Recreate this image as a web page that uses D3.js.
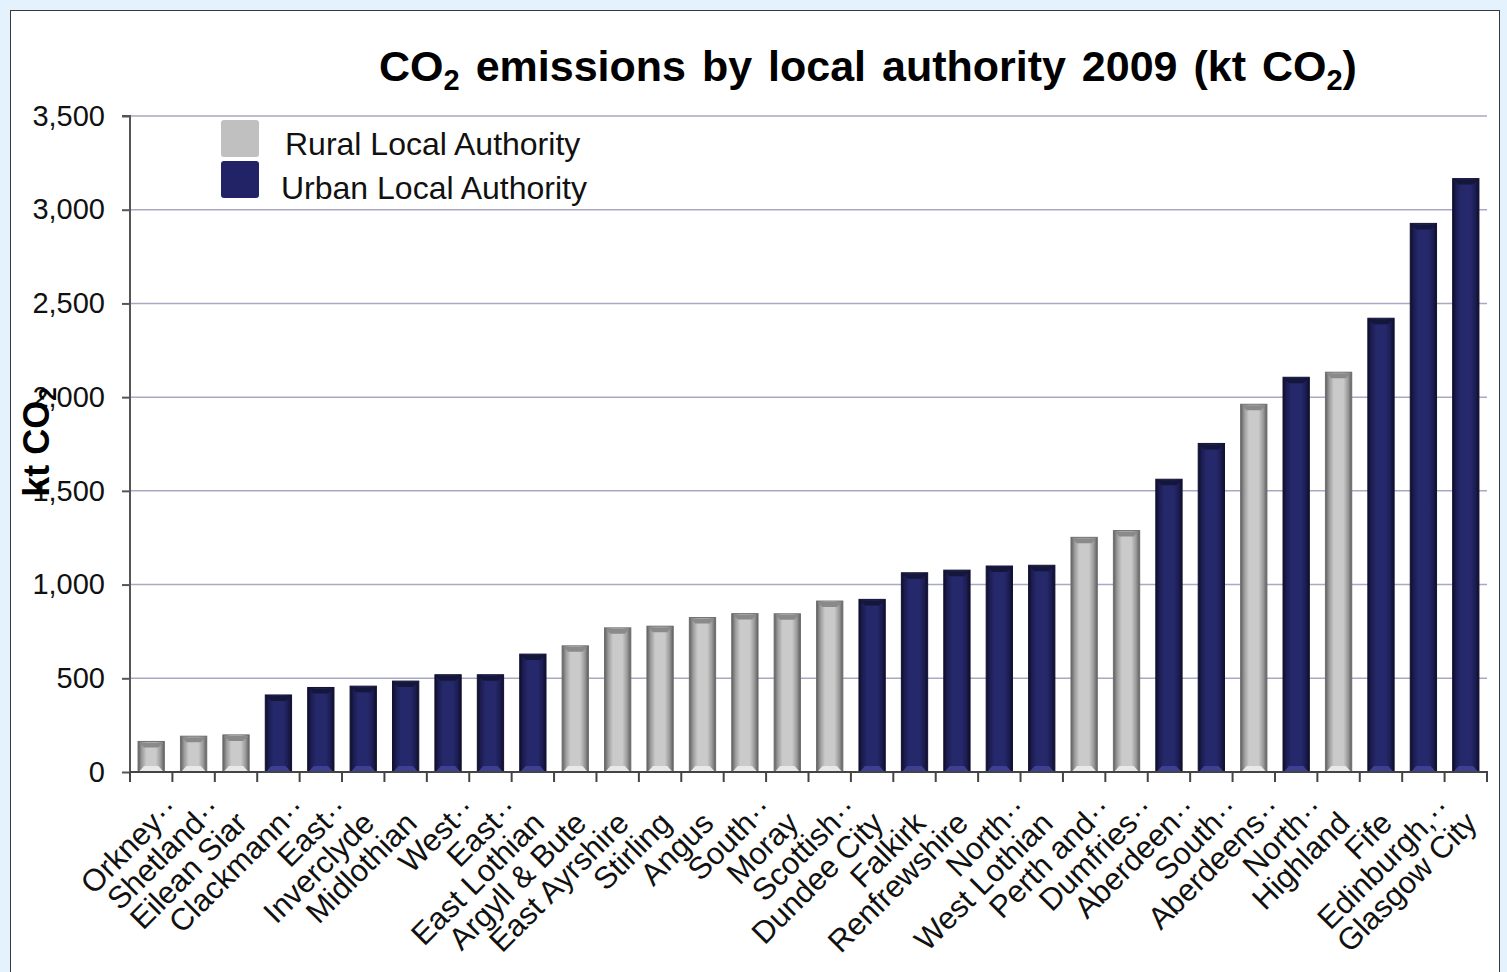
<!DOCTYPE html>
<html>
<head>
<meta charset="utf-8">
<script src="https://cdn.jsdelivr.net/npm/d3@7"></script>
<style>
  body { margin: 0; background: #e4f2fd; }
  svg { display: block; font-family: "Liberation Sans", Arial, sans-serif; }
</style>
</head>
<body>
<svg id="chart" width="1507" height="972"></svg>
<script>
const categories = [
  "Orkney…", "Shetland…", "Eilean Siar", "Clackmann…", "East…", "Inverclyde",
  "Midlothian", "West…", "East…", "East Lothian", "Argyll & Bute", "East Ayrshire",
  "Stirling", "Angus", "South…", "Moray", "Scottish…", "Dundee City", "Falkirk",
  "Renfrewshire", "North…", "West Lothian", "Perth and…", "Dumfries…", "Aberdeen…",
  "South…", "Aberdeens…", "North…", "Highland", "Fife", "Edinburgh,…", "Glasgow City"
];
const values = [
  163, 191, 198, 411, 451, 458, 485, 519, 519, 629, 673, 769,
  778, 824, 845, 844, 912, 921, 1063, 1077, 1099, 1103, 1252, 1288, 1562,
  1753, 1962, 2106, 2133, 2421, 2927, 3166
];
const types = [
  "rural", "rural", "rural", "urban", "urban", "urban",
  "urban", "urban", "urban", "urban", "rural", "rural",
  "rural", "rural", "rural", "rural", "rural", "urban", "urban",
  "urban", "urban", "urban", "rural", "rural", "urban",
  "urban", "rural", "urban", "rural", "urban", "urban", "urban"
];
const yTicks = [0, 500, 1000, 1500, 2000, 2500, 3000, 3500];
const legendItems = [
  { key: "rural", label: "Rural Local Authority" },
  { key: "urban", label: "Urban Local Authority" }
];

const data = categories.map((c, i) => ({ id: i, name: c, value: values[i], type: types[i] }));

const svg = d3.select("#chart");
const plotLeft = 130, plotRight = 1487, plotTop = 116, plotBottom = 772;

// panel
svg.append("rect")
  .attr("x", 10.5).attr("y", 10.5)
  .attr("width", 1489).attr("height", 980)
  .attr("fill", "#fff").attr("stroke", "#3a3a3a").attr("stroke-width", 1);

const x = d3.scaleBand()
  .domain(data.map(d => d.id))
  .range([plotLeft, plotRight])
  .paddingInner(0.38)
  .paddingOuter(0.19);

const y = d3.scaleLinear().domain([0, 3500]).range([plotBottom, plotTop]);

// gradients for the bevelled bars
const defs = svg.append("defs");
const palette = {
  rural: { edge: "#5e5e5e", mid: "#9a9a9a", face: "#cacaca", topCap: "#8a8a8a", foot: "#e8e8e8", stroke: "#6e6e6e", legend: "#c0c0c0" },
  urban: { edge: "#0e0e2c", mid: "#1c1d52", face: "#26286c", topCap: "#15163c", foot: "#3d3f92", stroke: "#111130", legend: "#222266" }
};
Object.entries(palette).forEach(([key, p]) => {
  const g = defs.append("linearGradient").attr("id", `grad-${key}`)
    .attr("x1", "0%").attr("x2", "100%").attr("y1", "0%").attr("y2", "0%");
  [[0, p.edge], [0.14, p.mid], [0.32, p.face], [0.68, p.face], [0.86, p.mid], [1, p.edge]]
    .forEach(([o, c]) => g.append("stop").attr("offset", o).attr("stop-color", c));
});

// gridlines
svg.append("g")
  .selectAll("line")
  .data(yTicks.filter(t => t > 0))
  .join("line")
  .attr("x1", plotLeft).attr("x2", plotRight)
  .attr("y1", d => y(d)).attr("y2", d => y(d))
  .attr("stroke", "#a9a9c4").attr("stroke-width", 1.5);

// bars
const bars = svg.append("g").selectAll("g").data(data).join("g");
const bw = x.bandwidth();
const bev = 6;
bars.append("rect")
  .attr("x", d => x(d.id)).attr("y", d => y(d.value))
  .attr("width", bw).attr("height", d => plotBottom - y(d.value))
  .attr("fill", d => `url(#grad-${d.type})`)
  .attr("stroke", d => palette[d.type].stroke).attr("stroke-width", 1);
bars.append("path")
  .attr("d", d => {
    const x0 = x(d.id), y0 = y(d.value);
    return `M${x0 + 1},${y0 + 1}L${x0 + bw - 1},${y0 + 1}L${x0 + bw - bev},${y0 + bev}L${x0 + bev},${y0 + bev}Z`;
  })
  .attr("fill", d => palette[d.type].topCap);
bars.append("path")
  .attr("d", d => {
    const x0 = x(d.id);
    return `M${x0 + 1},${plotBottom - 0.5}L${x0 + bw - 1},${plotBottom - 0.5}L${x0 + bw - bev},${plotBottom - bev}L${x0 + bev},${plotBottom - bev}Z`;
  })
  .attr("fill", d => palette[d.type].foot);

// y axis
const yAxis = svg.append("g").attr("transform", `translate(${plotLeft},0)`)
  .call(d3.axisLeft(y).tickValues(yTicks).tickFormat(d3.format(",")).tickSize(8).tickPadding(17));
yAxis.select(".domain").attr("stroke", "#555").attr("stroke-width", 2).attr("d", `M-8,${plotTop}H0V${plotBottom}`);
yAxis.selectAll(".tick line").attr("stroke", "#555").attr("stroke-width", 2);
yAxis.selectAll(".tick text").attr("font-size", 29).attr("fill", "#111")
  .attr("font-family", "Liberation Sans, Arial, sans-serif");

// x axis
const xAxisG = svg.append("g");
xAxisG.append("line").attr("x1", plotLeft).attr("x2", plotRight + 1)
  .attr("y1", plotBottom).attr("y2", plotBottom).attr("stroke", "#444").attr("stroke-width", 2);
xAxisG.selectAll(".xt")
  .data(d3.range(categories.length + 1))
  .join("line")
  .attr("x1", i => plotLeft + i * x.step()).attr("x2", i => plotLeft + i * x.step())
  .attr("y1", plotBottom).attr("y2", plotBottom + 10)
  .attr("stroke", "#444").attr("stroke-width", 2);

const labels = xAxisG.selectAll(".xl").data(data).join("g")
  .attr("transform", d => `translate(${x(d.id) + bw / 2 + 13},825) rotate(-45)`);
labels.append("text")
  .attr("text-anchor", "end")
  .attr("font-size", 31).attr("fill", "#111")
  .text(d => d.name.replace("…", ""));
labels.filter(d => d.name.endsWith("…")).append("text")
  .attr("x", 1).attr("font-size", 31).attr("fill", "#111")
  .text("··");

// y axis title
const yTitle = svg.append("text")
  .attr("transform", "translate(49,442) rotate(-90)")
  .attr("text-anchor", "middle")
  .attr("font-size", 36).attr("font-weight", 700).attr("fill", "#000");
yTitle.append("tspan").text("kt CO");
yTitle.append("tspan").attr("font-size", 24).attr("dy", 7).text("2");

// title
const title = svg.append("text")
  .attr("x", 868).attr("y", 81)
  .attr("text-anchor", "middle")
  .attr("font-size", 43).attr("font-weight", 700).attr("fill", "#000")
  .attr("word-spacing", 4);
title.append("tspan").text("CO");
title.append("tspan").attr("font-size", 29).attr("dy", 9).text("2");
title.append("tspan").attr("dy", -9).text(" emissions  by local authority 2009 (kt CO");
title.append("tspan").attr("font-size", 29).attr("dy", 9).text("2");
title.append("tspan").attr("dy", -9).text(")");

// legend
const legend = svg.append("g").selectAll("g").data(legendItems).join("g")
  .attr("transform", (d, i) => `translate(221,${120 + i * 41})`);
legend.append("rect")
  .attr("width", 38).attr("height", 37).attr("rx", 3)
  .attr("fill", d => palette[d.key].legend);
legend.append("text")
  .attr("x", (d, i) => (i === 0 ? 64 : 60)).attr("y", (d, i) => (i === 0 ? 35 : 38))
  .attr("font-size", 32).attr("fill", "#111")
  .text(d => d.label);
</script>
</body>
</html>
